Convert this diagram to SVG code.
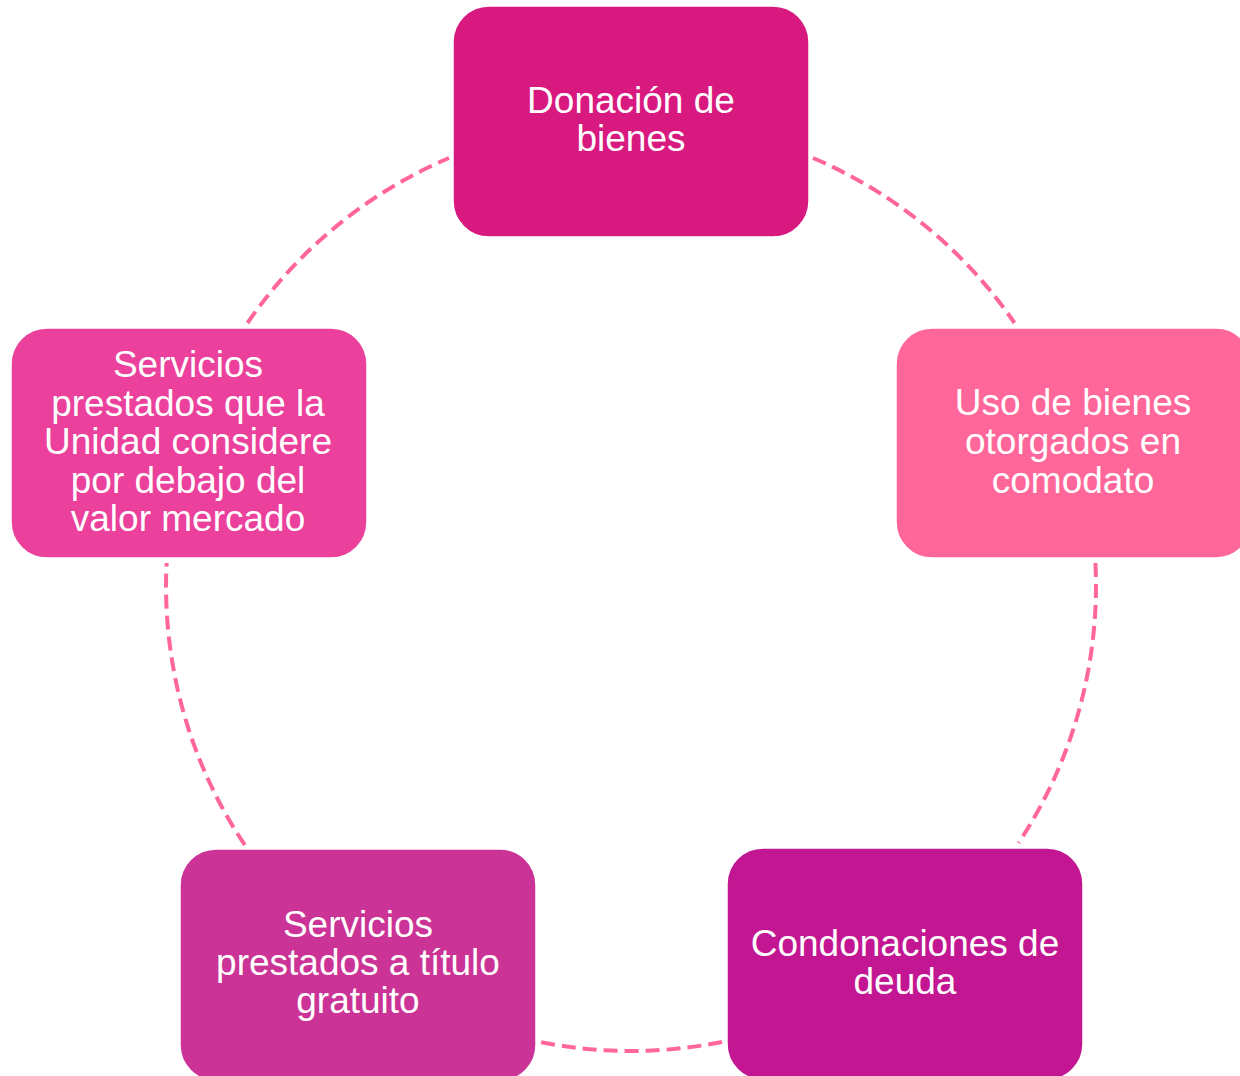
<svg xmlns="http://www.w3.org/2000/svg" width="1240" height="1076" viewBox="0 0 1240 1076">
<style>
.box{stroke:#ffffff;stroke-width:1.5}
.lbl{font-family:"Liberation Sans",Arial,sans-serif;font-size:37px;fill:#ffffff;text-anchor:middle}
.arc{fill:none;stroke:#FF6699;stroke-width:4;stroke-dasharray:14 7}
</style>
<rect width="1240" height="1076" fill="#ffffff"/>
<g id="connectors">
<path class="arc" d="M813,158 A465,465 0 0 1 1014.5,323"/>
<path class="arc" d="M1095.4,563 A465,465 0 0 1 1018.5,843"/>
<path class="arc" d="M722,1042 A465,465 0 0 1 540,1042"/>
<path class="arc" d="M244.8,845 A465,465 0 0 1 166.6,563"/>
<path class="arc" d="M247.5,323 A465,465 0 0 1 449,158"/>
</g>
<g id="node-donacion">
<rect class="box" x="453" y="6" width="356" height="231" rx="36" fill="#D81980"/>
<text class="lbl"><tspan x="631" y="113">Donación de</tspan><tspan x="631" y="151">bienes</tspan></text>
</g>
<g id="node-uso">
<rect class="box" x="896" y="328" width="356" height="230" rx="36" fill="#FF6699"/>
<text class="lbl"><tspan x="1073" y="415">Uso de bienes</tspan><tspan x="1073" y="454">otorgados en</tspan><tspan x="1073" y="493">comodato</tspan></text>
</g>
<g id="node-condonaciones">
<rect class="box" x="727" y="848" width="356" height="232" rx="36" fill="#C21692"/>
<text class="lbl"><tspan x="905" y="956">Condonaciones de</tspan><tspan x="905" y="994">deuda</tspan></text>
</g>
<g id="node-gratuito">
<rect class="box" x="180" y="849" width="356" height="232" rx="36" fill="#CB3396"/>
<text class="lbl"><tspan x="358" y="937">Servicios</tspan><tspan x="358" y="975">prestados a título</tspan><tspan x="358" y="1013">gratuito</tspan></text>
</g>
<g id="node-debajo">
<rect class="box" x="11" y="328" width="356" height="230" rx="36" fill="#EB409C"/>
<text class="lbl"><tspan x="188" y="377">Servicios</tspan><tspan x="188" y="416">prestados que la</tspan><tspan x="188" y="454">Unidad considere</tspan><tspan x="188" y="493">por debajo del</tspan><tspan x="188" y="531">valor mercado</tspan></text>
</g>
</svg>
